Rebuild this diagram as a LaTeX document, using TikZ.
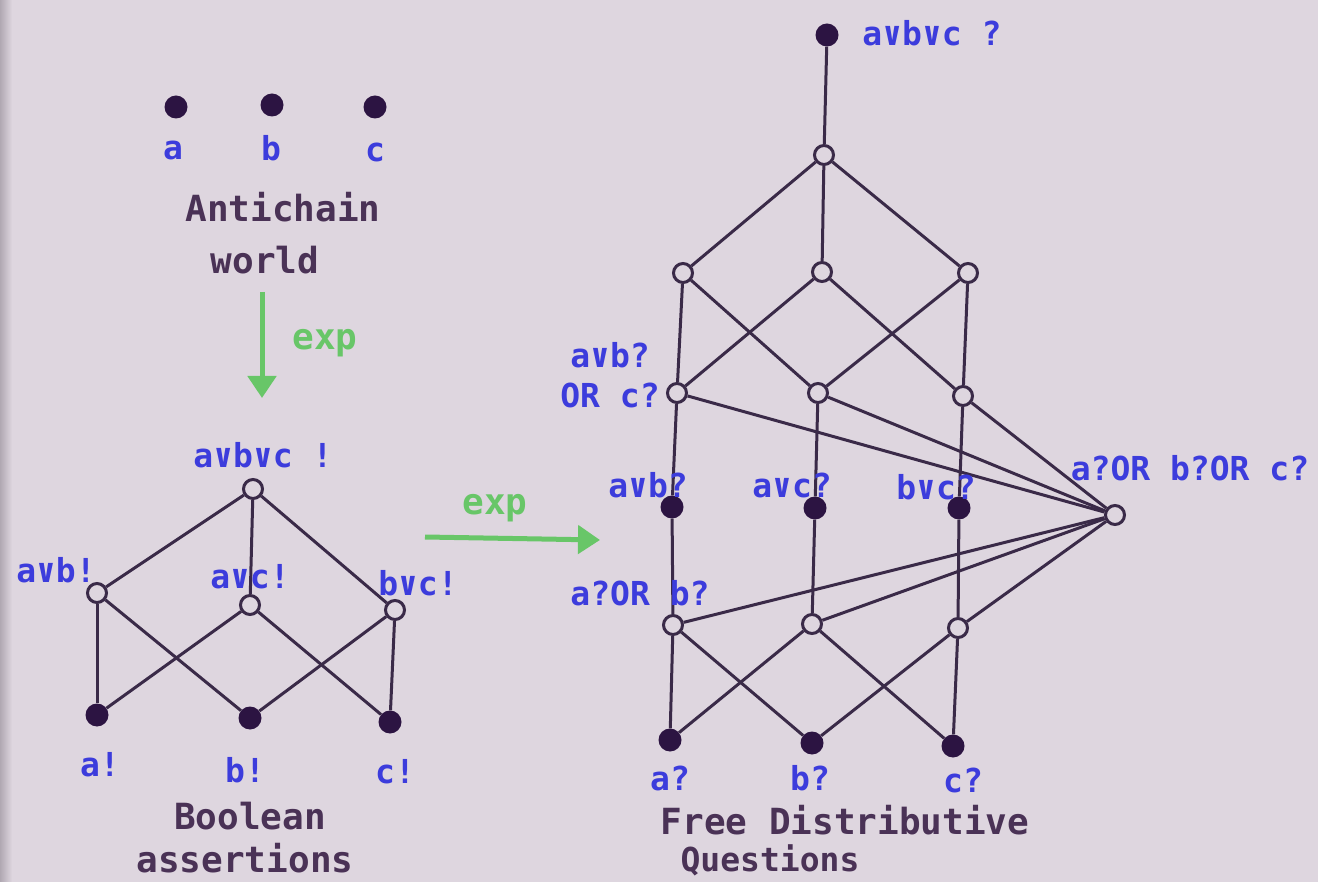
\documentclass[tikz,border=0pt]{standalone}
\usepackage{fontspec}
\setmainfont{DejaVu Sans Mono}
\usetikzlibrary{arrows.meta}
\definecolor{paper}{RGB}{222,214,223}
\definecolor{paperdark}{RGB}{176,168,178}
\definecolor{ink}{RGB}{74,50,86}
\definecolor{edgec}{RGB}{58,42,72}
\definecolor{dotc}{RGB}{44,20,66}
\definecolor{lblue}{RGB}{60,60,220}
\definecolor{lgreen}{RGB}{104,198,104}
\newcommand{\jn}{∨}
\begin{document}
\begin{tikzpicture}[x=1pt,y=-1pt,
  open/.style={circle,draw=edgec,line width=3pt,fill=paper,inner sep=0pt,minimum size=19pt},
  full/.style={circle,fill=dotc,inner sep=0pt,minimum size=23pt},
  lbl/.style={text=lblue,font=\fontsize{33}{35}\selectfont\bfseries,inner sep=0pt},
  ttl/.style={text=ink,font=\fontsize{36}{40}\selectfont\bfseries,inner sep=0pt},
  ed/.style={draw=edgec,line width=3pt},
  expa/.style={draw=lgreen,line width=5pt,-{Triangle[length=22pt,width=28pt]}},
  expl/.style={text=lgreen,font=\fontsize{36}{38}\selectfont\bfseries,inner sep=0pt}]
% paper
\useasboundingbox (0,0) rectangle (1318,882);
\fill[paper] (0,0) rectangle (1318,882);
\shade[left color=paperdark,right color=paper] (0,0) rectangle (12,882);

% ---- antichain world ----
\node[full] (ga) at (176,107) {};
\node[full] (gb) at (272,105) {};
\node[full] (gc) at (375,107) {};
\node[lbl] (ga-l) at (173,150) {a};
\node[lbl] (gb-l) at (271,148) {b};
\node[lbl] (gc-l) at (375,152) {c};
\node[ttl] (anti) at (283,207) {Antichain};
\node[ttl] (world) at (265,260) {world};

% first expansion
\coordinate (e1s) at (262,292);
\coordinate (e1e) at (262,398);
\draw[expa] (e1s) -- (e1e);
\node[expl] (e1l) at (325,343) {exp};

% ---- Boolean assertions ----
\node[open] (btop) at (253,489) {};
\node[open] (bab) at (97,593) {};
\node[open] (bac) at (250,605) {};
\node[open] (bbc) at (395,610) {};
\node[full] (ba) at (97,715) {};
\node[full] (bb) at (250,718) {};
\node[full] (bc) at (390,722) {};
\draw[ed] (btop) -- (bab);
\draw[ed] (btop) -- (bac);
\draw[ed] (btop) -- (bbc);
\draw[ed] (bab) -- (ba);
\draw[ed] (bab) -- (bb);
\draw[ed] (bac) -- (ba);
\draw[ed] (bac) -- (bc);
\draw[ed] (bbc) -- (bb);
\draw[ed] (bbc) -- (bc);
\node[lbl] (btop-l) at (263,455) {a\jn b\jn c !};
\node[lbl] (bab-l) at (56,570) {a\jn b!};
\node[lbl] (bac-l) at (250,577) {a\jn c!};
\node[lbl] (bbc-l) at (418,583) {b\jn c!};
\node[lbl] (ba-l) at (100,765) {a!};
\node[lbl] (bb-l) at (245,770) {b!};
\node[lbl] (bc-l) at (395,772) {c!};
\node[ttl] (bool) at (250,816) {Boolean};
\node[ttl] (asrt) at (245,858) {assertions};

% second expansion
\coordinate (e2s) at (425,537);
\coordinate (e2e) at (600,540);
\draw[expa] (e2s) -- (e2e);
\node[expl] (e2l) at (495,508) {exp};

% ---- free distributive questions ----
\node[full] (qtop) at (827,35) {};
\node[open] (q1) at (824,155) {};
\node[open] (l2) at (683,273) {};
\node[open] (m2) at (822,272) {};
\node[open] (r2) at (968,273) {};
\node[open] (l3) at (677,393) {};
\node[open] (m3) at (818,393) {};
\node[open] (r3) at (963,396) {};
\node[full] (l4) at (672,507) {};
\node[full] (m4) at (815,508) {};
\node[full] (r4) at (959,508) {};
\node[open] (side) at (1115,515) {};
\node[open] (l5) at (673,625) {};
\node[open] (m5) at (812,624) {};
\node[open] (r5) at (958,628) {};
\node[full] (qa) at (670,740) {};
\node[full] (qb) at (812,743) {};
\node[full] (qc) at (953,746) {};

\draw[ed] (qtop) -- (q1);
\draw[ed] (q1) -- (l2);
\draw[ed] (q1) -- (m2);
\draw[ed] (q1) -- (r2);
\draw[ed] (l2) -- (l3);
\draw[ed] (l2) -- (m3);
\draw[ed] (m2) -- (l3);
\draw[ed] (m2) -- (r3);
\draw[ed] (r2) -- (m3);
\draw[ed] (r2) -- (r3);
\draw[ed] (l3) -- (l4);
\draw[ed] (m3) -- (m4);
\draw[ed] (r3) -- (r4);
\draw[ed] (l4) -- (l5);
\draw[ed] (m4) -- (m5);
\draw[ed] (r4) -- (r5);
\draw[ed] (l3) -- (side);
\draw[ed] (m3) -- (side);
\draw[ed] (r3) -- (side);
\draw[ed] (l5) -- (side);
\draw[ed] (m5) -- (side);
\draw[ed] (r5) -- (side);
\draw[ed] (l5) -- (qa);
\draw[ed] (l5) -- (qb);
\draw[ed] (m5) -- (qa);
\draw[ed] (m5) -- (qc);
\draw[ed] (r5) -- (qb);
\draw[ed] (r5) -- (qc);

\node[lbl] (qtop-l) at (932,33) {a\jn b\jn c ?};
\node[lbl] (l3-la) at (610,355) {a\jn b?};
\node[lbl] (l3-lb) at (610,395) {OR c?};
\node[lbl] (l4-l) at (648,485) {a\jn b?};
\node[lbl] (m4-l) at (792,485) {a\jn c?};
\node[lbl] (r4-l) at (936,487) {b\jn c?};
\node[lbl] (side-l) at (1190,468) {a?OR b?OR c?};
\node[lbl] (l5-l) at (640,593) {a?OR b?};
\node[lbl] (qa-l) at (670,778) {a?};
\node[lbl] (qb-l) at (810,778) {b?};
\node[lbl] (qc-l) at (963,780) {c?};
\node[ttl] (fdq1) at (845,820) {Free Distributive};
\node[ttl,font=\fontsize{33}{38}\selectfont\bfseries] (fdq2) at (770,860) {Questions};
\end{tikzpicture}
\end{document}
